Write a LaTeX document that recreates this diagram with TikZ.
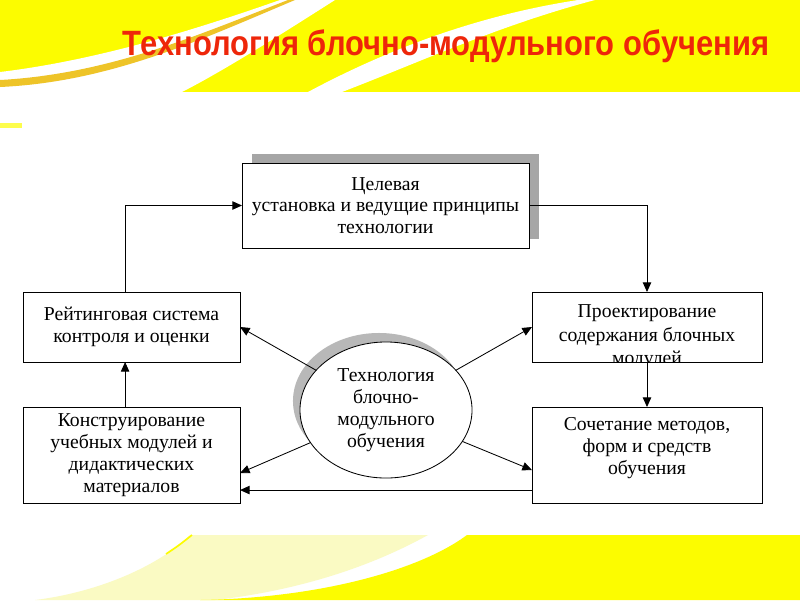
\documentclass[tikz,border=0pt]{standalone}
\usepackage{fontspec}
\setmainfont{Liberation Serif}
\newfontfamily\titlefont{Liberation Sans}[FakeStretch=0.88]
\usetikzlibrary{arrows.meta,positioning,shapes.geometric,shadows}
\definecolor{bandyellow}{RGB}{252,252,0}
\definecolor{paleyellow}{RGB}{250,250,195}
\definecolor{swoosh}{RGB}{238,196,40}
\definecolor{titlered}{RGB}{238,38,10}

\begin{document}
\begin{tikzpicture}[
  x=0.025cm, y=-0.025cm,
  node distance=11.25mm,
  bx/.style={draw, fill=white, line width=0.6pt, align=center, inner sep=2pt,
             outer sep=0pt, font=\fontsize{14}{15.5}\selectfont},
  tx/.style={align=center, inner sep=0pt, font=\fontsize{14}{15.5}\selectfont},
  arr/.style={-{Triangle[length=2.4mm, width=2.1mm]}, line width=0.6pt}
]
\fill[white] (0,0) rectangle (800,600);
\useasboundingbox (0,0) rectangle (800,600);
% yellow bands
\fill[bandyellow] (0,0) rectangle (800,92);
\fill[white] (0,72) .. controls (100,60) and (200,28) .. (280,0) -- (335,0)
  .. controls (280,35) and (225,70) .. (182,92) -- (0,92) -- cycle;
\fill[swoosh] (0,87) .. controls (110,82) and (200,40) .. (295,0) -- (288,0)
  .. controls (200,34) and (110,74) .. (0,80) -- cycle;
\fill[white] (342,92) .. controls (420,62) and (500,25) .. (595,0) -- (578,0)
  .. controls (480,15) and (390,48) .. (308,92) -- cycle;
\fill[bandyellow!70!white] (0,123) rectangle (22,128);
\fill[paleyellow] (35,600) .. controls (100,592) and (160,565) .. (190,535) -- (428,535)
  .. controls (390,556) and (320,588) .. (215,600) -- cycle;
\draw[bandyellow, line width=1.2pt] (166,554) .. controls (178,546) .. (192,535);
\fill[bandyellow] (200,600) .. controls (320,598) and (420,570) .. (467,535)
  -- (800,535) -- (800,600) -- cycle;

\node[font=\titlefont\bfseries\fontsize{25}{29}\selectfont, text=titlered] (ttl) at (446,46)
  {Технология блочно-модульного обучения};

% boxes
\node[bx, minimum width=71.75mm, minimum height=21.25mm,
      drop shadow={shadow xshift=2.5mm, shadow yshift=2.25mm, fill=black!35, opacity=1}]
  (tb) at (385.5,205.5) {Целевая\\установка и ведущие принципы\\технологии};
\node[bx, minimum width=54.25mm, minimum height=17.5mm] (lm) at (131.5,327)
  {Рейтинговая система\\контроля и оценки};
\node[bx, minimum width=57.5mm, minimum height=17.5mm] (rm) at (647,327) {};
\begin{scope}
  \clip (rm.north west) rectangle (rm.south east);
  \node[tx, font=\fontsize{14}{16.5}\selectfont, below=3.2mm of rm.north] (rmt)
    {Проектирование\\содержания блочных\\модулей};
\end{scope}
\node[bx, minimum width=54.25mm, minimum height=24mm, below=of lm] (lb)
  {Конструирование\\учебных модулей и\\дидактических\\материалов};
\node[bx, minimum width=57.5mm, minimum height=24mm, below=of rm] (rb) {};
\node[tx, below=2.6mm of rb.north] (rbt) {Сочетание методов,\\форм и средств\\обучения};

\node[bx, ellipse, minimum width=43mm, minimum height=34mm, inner sep=0pt,
      drop shadow={shadow xshift=-1.75mm, shadow yshift=2.25mm, fill=black!28, opacity=1}]
  (el) at (386,410) {Технология\\блочно-\\модульного\\обучения};

% connectors
\draw[arr] ([xshift=-1.6mm]lm.north) |- (tb.west);
\draw[arr] (tb.east) -| (rm.north);
\draw[arr] (rm.south) -- (rb.north);
\draw[arr] ([xshift=-1.6mm]lb.north) -- ([xshift=-1.6mm]lm.south);
\draw[arr] ([yshift=-8.75mm]rb.west) -- ([yshift=-8.75mm]lb.east);
\draw[arr] (el) -- (lm.east);
\draw[arr] (el) -- ([yshift=-4.5mm]lb.east);
\draw[arr] (el) -- (rm.west);
\draw[arr] (el) -- ([yshift=-3.75mm]rb.west);
\end{tikzpicture}
\end{document}
